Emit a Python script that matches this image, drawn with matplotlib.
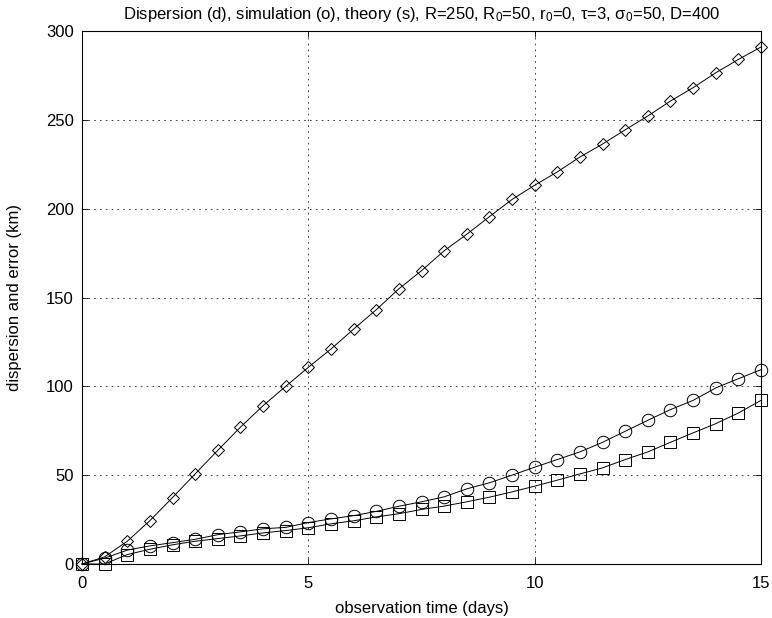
import matplotlib
matplotlib.use("Agg")
import matplotlib.pyplot as plt

plt.rcParams['font.family'] = ['Liberation Sans', 'DejaVu Sans']
plt.rcParams['mathtext.fontset'] = 'custom'
plt.rcParams['mathtext.rm'] = 'Liberation Sans'
plt.rcParams['mathtext.it'] = 'Liberation Sans:italic'

# observation times (days)
t = [0, 0.5, 1, 1.5, 2, 2.5, 3, 3.5, 4, 4.5, 5, 5.5, 6, 6.5, 7, 7.5,
     8, 8.5, 9, 9.5, 10, 10.5, 11, 11.5, 12, 12.5, 13, 13.5, 14, 14.5, 15]

# dispersion (d)
disp_d = [0, 4, 12.8, 24.4, 37.4, 50.7, 64, 77, 89.1, 100, 110.7, 121, 132.2,
          143.1, 154.9, 165.1, 176.3, 185.6, 195.5, 205.2, 213.2, 220.7, 229.1,
          236.4, 244.4, 252.2, 260.6, 268.1, 276.5, 284, 291]

# simulation (o)
sim_o = [0, 3.3, 7.8, 10.2, 12, 13.9, 16.5, 18.1, 19.8, 20.6, 23.3, 25.4, 27.2,
         29.6, 32.5, 35, 37.8, 42.3, 45.7, 50, 54.5, 58.8, 63.1, 68.5, 74.7,
         80.9, 86.9, 92.1, 99.1, 104.3, 109.4]

# theory (s)
theory_s = [0, 0, 5.3, 8.3, 10.8, 12.8, 14.3, 15.8, 17.5, 18.8, 20.4, 22.6, 24.3,
            26.5, 28.3, 30.7, 32.6, 35, 37.6, 40.6, 43.8, 47.2, 50.7, 54.1, 58.8,
            63.1, 68.5, 73.8, 79, 85, 92.1]

fig = plt.figure(figsize=(7.72, 6.18), dpi=100)
ax = fig.add_axes([0.1062, 0.0874, 0.8796, 0.8624])

style = dict(color='black', lw=0.7, mfc='none', mec='black', mew=0.7, clip_on=False)
ax.plot(t, disp_d, marker='D', ms=6.5, **style)
ax.plot(t, sim_o, marker='o', ms=9, **style)
ax.plot(t, theory_s, marker='s', ms=8, **style)

ax.set_xlim(0, 15)
ax.set_ylim(0, 300)
ax.set_xticks([0, 5, 10, 15])
ax.set_yticks([0, 50, 100, 150, 200, 250, 300])
ax.grid(True, color='#222222', linestyle=(0, (2, 5)), linewidth=0.6)
ax.tick_params(direction='in', length=4, width=0.6, top=True, right=True,
               labelsize=12)
ax.tick_params(axis='x', pad=9)
ax.tick_params(axis='y', pad=6)
for s in ax.spines.values():
    s.set_linewidth(0.8)

ax.set_xlabel('observation time (days)', fontsize=12)
ax.xaxis.set_label_coords(0.5, -0.069)
ax.set_ylabel('dispersion and error (km)', fontsize=12)
ax.yaxis.set_label_coords(-0.089, 0.5)
ax.set_title('Dispersion (d), simulation (o), theory (s), R=250, R$_0$=50, '
             'r$_0$=0, \u03c4=3, \u03c3$_0$=50, D=400', fontsize=12, pad=9)

fig.savefig('out.png', dpi=100)
